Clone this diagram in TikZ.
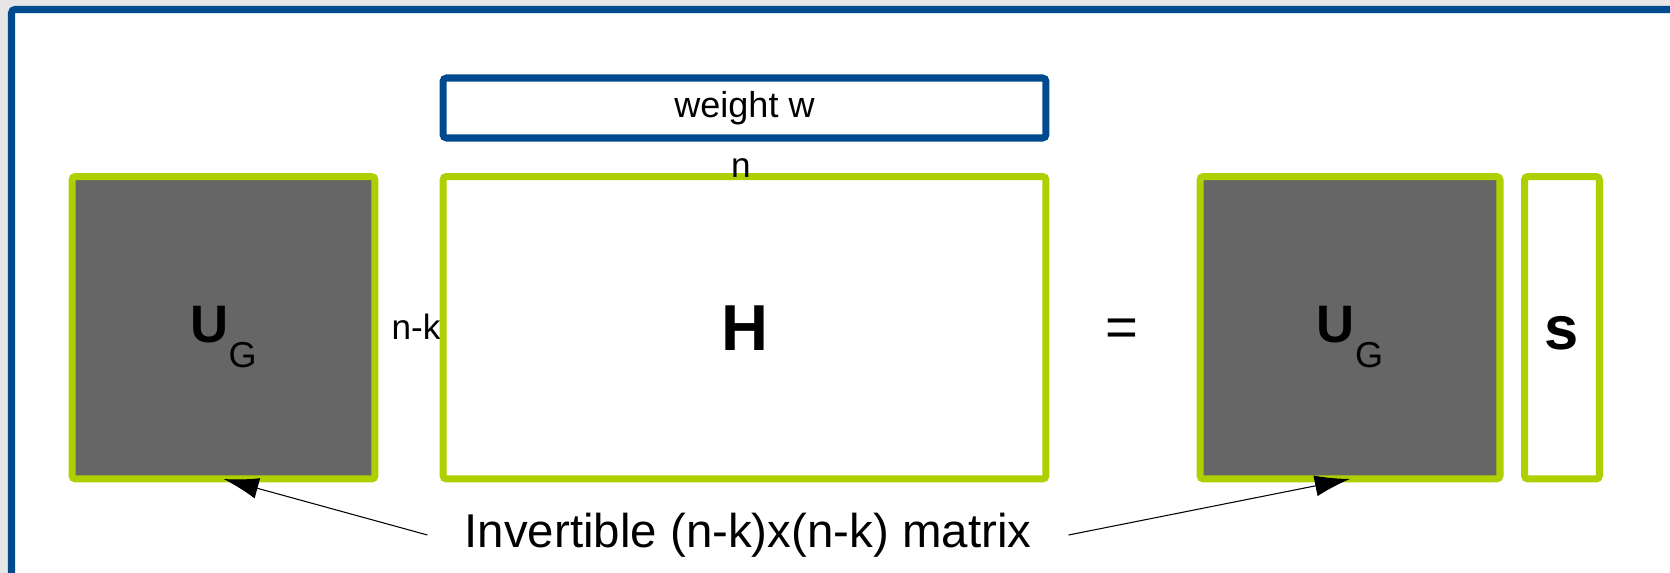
\documentclass[tikz,border=0pt]{standalone}
\usepackage{fontspec}
\setmainfont{Liberation Sans}
\usetikzlibrary{arrows.meta}
\definecolor{frameblue}{HTML}{004B8D}
\definecolor{limegreen}{HTML}{AFD000}
\definecolor{matgray}{HTML}{666666}
\definecolor{pagegray}{HTML}{E6E6E6}

\begin{document}
\begin{tikzpicture}[x=0.02cm, y=-0.02cm,
  mat/.style={draw=limegreen, line width=4pt, rounded corners=2pt, inner sep=0pt, outer sep=0pt, minimum height=6.05cm},
  dim/.style={font=\fontsize{20}{24}\selectfont, inner sep=0pt},
  pointer/.style={-{Latex[length=20pt, width=12pt]}, line width=0.6pt}]
  % page and frame
  \fill[pagegray] (0,0) rectangle (1670,573);
  \clip (0,0) rectangle (1670,573);
  \draw[frameblue, line width=4pt, fill=white, rounded corners=2pt] (11.5,9.5) rectangle (1720,640);

  % weight row
  \node[draw=frameblue, line width=4pt, rounded corners=2pt, inner sep=0pt, minimum width=12.06cm, minimum height=1.2cm, font=\fontsize{20.5}{24}\selectfont] (wt) at (744.5,108) {weight w};

  % matrices
  \node[mat, fill=matgray, minimum width=6.06cm, text height=31pt, text depth=14pt] (ugl) at (223.5,327.75)
    {{\fontsize{30}{30}\selectfont\bfseries U}\raisebox{-14pt}{\fontsize{20.5}{20}\selectfont G}};
  \node[mat, fill=white, minimum width=12.06cm, font=\fontsize{37}{40}\selectfont\bfseries] (hm) at (744.5,327.75) {H};
  \node[mat, fill=matgray, minimum width=6cm, text height=31pt, text depth=14pt] (ugr) at (1350,327.75)
    {{\fontsize{30}{30}\selectfont\bfseries U}\raisebox{-14pt}{\fontsize{20.5}{20}\selectfont G}};
  \node[mat, fill=white, minimum width=1.5cm, text height=25pt, text depth=0pt, font=\fontsize{35}{40}\selectfont\bfseries] (sv) at (1562,327.75) {s};
  \node[font=\fontsize{32}{40}\selectfont] (eq) at (1122,333) {=};

  % dimensions
  \node[dim] (ncol) at (741,168) {n};
  \node[dim] (nrow) at (416,327) {n-k};

  % note
  \node[font=\fontsize{27}{32}\selectfont, inner xsep=21pt, inner ysep=2pt] (inv) at (748,535) {Invertible (n-k)x(n-k) matrix};
  \draw[pointer] (inv.west) -- (ugl.south);
  \draw[pointer] (inv.east) -- (ugr.south);
\end{tikzpicture}
\end{document}
